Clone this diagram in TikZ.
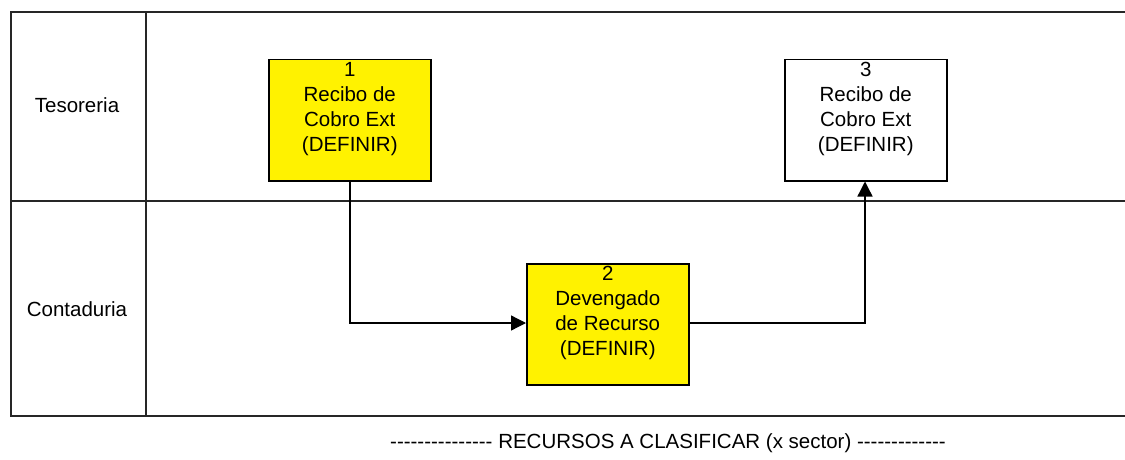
\documentclass[tikz,border=0pt]{standalone}
\usepackage{fontspec}
\setmainfont{Liberation Sans}
\newfontfamily\footfont{Liberation Sans}[Ligatures=NoCommon]
\usetikzlibrary{arrows.meta}
\begin{document}
\begin{tikzpicture}[x=1pt,y=-1pt,
  lane/.style={line width=2pt,draw=black!85},
  proc/.style={draw=black,line width=1.5pt,minimum width=162pt,minimum height=121pt,anchor=north west,inner sep=0pt},
  lbl/.style={font=\fontsize{20.5}{24.8}\selectfont,align=center,inner sep=0pt},
  flow/.style={line width=1.3pt,-{Triangle[length=15pt,width=15pt]}}]
\useasboundingbox (0,0) rectangle (1125,460);
% swimlane grid
\draw[lane] (1125,12) -- (11,12) -- (11,416) -- (1125,416);
\draw[lane] (11,201) -- (1125,201);
\draw[lane] (146,12) -- (146,416);
\node[lbl,anchor=base] (t1) at (77,112) {Tesoreria};
\node[lbl,anchor=base] (t2) at (77,316.5) {Contaduria};
% boxes
\node[proc,fill=yellow] (b1) at (268,59) {};
\node[lbl,anchor=north] (l1) at ([yshift=-3.3pt]b1.north) {1\\Recibo de\\Cobro Ext\\(DEFINIR)};
\node[proc,fill=yellow] (b2) at (526,263) {};
\node[lbl,anchor=north] (l2) at ([yshift=-3.3pt]b2.north) {2\\Devengado\\de Recurso\\(DEFINIR)};
\node[proc,fill=white] (b3) at (784,59) {};
\node[lbl,anchor=north] (l3) at ([yshift=-3.3pt]b3.north) {3\\Recibo de\\Cobro Ext\\(DEFINIR)};
% connectors
\coordinate (c1) at (350,323);
\coordinate (c2) at (865,323);
\draw[flow] (b1.south -| c1) -- (c1) -- (b2.west |- c1);
\draw[flow] (b2.east |- c2) -- (c2) -- (b3.south -| c2);
% footer
\node[lbl,font=\fontsize{20.5}{24.8}\footfont,anchor=base] (foot) at (668,448) {{-}{-}{-}{-}{-}{-}{-}{-}{-}{-}{-}{-}{-}{-}{-} RECURSOS A CLASIFICAR (x sector) {-}{-}{-}{-}{-}{-}{-}{-}{-}{-}{-}{-}{-}};
\end{tikzpicture}
\end{document}
